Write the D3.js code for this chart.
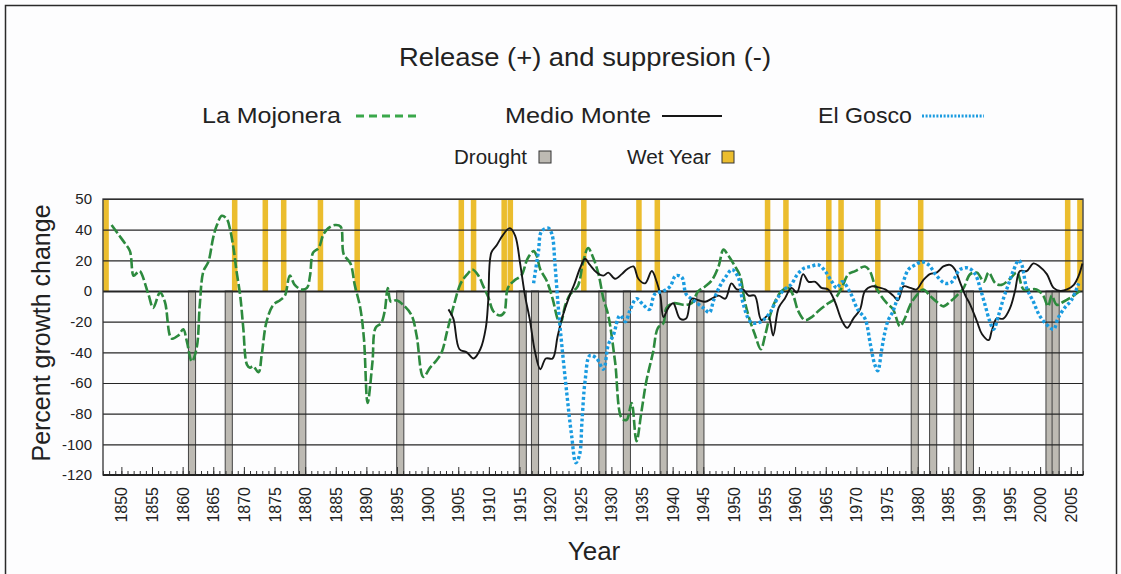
<!DOCTYPE html>
<html>
<head>
<meta charset="utf-8">
<script src="https://cdn.jsdelivr.net/npm/d3@7"></script>
<style>
  body { margin: 0; background: #fdfdfe; }
  text { font-family: "Liberation Sans", Arial, sans-serif; fill: #222; }
</style>
</head>
<body>
<div id="chart"></div>
<script>
'use strict';

// ---- data ----
const wetYears = [1847, 1868, 1873, 1876, 1882, 1888, 1905, 1907, 1912, 1913, 1925,
                  1934, 1937, 1955, 1958, 1965, 1967, 1973, 1980, 2004, 2006];
const droughtYears = [1861, 1867, 1879, 1895, 1915, 1917, 1928, 1932, 1938, 1944,
                      1979, 1982, 1986, 1988, 2001, 2002];

// [year, percent growth change]
const laMojonera = [
  [1848.4, 43], [1849.5, 37], [1850.6, 31], [1851.4, 26], [1852, 10], [1852.6, 12], [1853, 13],
  [1854.4, -2], [1855.2, -11], [1856.3, -1], [1857.1, -7], [1858.2, -31], [1859.3, -29],
  [1860.1, -25], [1860.7, -33], [1861.5, -46], [1862.3, -37], [1862.8, -9], [1863.4, 13],
  [1864.2, 19], [1865, 35], [1865.6, 43], [1866.4, 49], [1867.2, 47], [1867.7, 41], [1868.3, 28],
  [1868.8, 13], [1869.4, -3], [1869.9, -24], [1870.5, -48], [1871, -50], [1871.5, -49],
  [1872.4, -53], [1872.9, -42], [1873.7, -20], [1874.8, -9], [1875.9, -6], [1876.7, -3],
  [1877.5, 10], [1878.3, 4], [1879.4, 1], [1880.3, 2], [1880.8, 10], [1881.3, 25], [1882.2, 28],
  [1883, 37], [1883.8, 41], [1884.9, 43], [1885.8, 42], [1886.3, 24], [1887.4, 18], [1888.1, 4],
  [1889, -11], [1889.6, -31], [1890.2, -73], [1891, -46], [1891.5, -24], [1892.4, -21],
  [1893, -13], [1893.5, 2], [1894, -7], [1894.9, -6], [1896, -9], [1897.4, -16], [1898.2, -29],
  [1899.3, -56], [1900.4, -50], [1901.5, -45], [1902.3, -40], [1903.2, -26], [1904.3, -9],
  [1905.4, 5], [1906.5, 11], [1907.3, 14], [1908.3, 10], [1909.1, 3], [1909.9, -4], [1910.7, -13],
  [1911.8, -16], [1912.5, -14], [1913.1, 2], [1914.2, 7], [1915.3, 10], [1916.3, 21], [1917.3, 26],
  [1917.8, 23], [1918.4, 14], [1919.4, 7], [1920.4, -5], [1921.3, -19], [1921.7, -21], [1922.5, -9],
  [1923.3, -2], [1924.5, 3], [1925.4, 19], [1926.2, 28], [1927, 22], [1927.9, 11], [1928.7, -5],
  [1929.5, -16], [1930.6, -46], [1931.7, -83], [1932.5, -84], [1933.3, -73], [1934.1, -98],
  [1934.9, -79], [1935.7, -59], [1936.8, -40], [1937.6, -24], [1938.5, -21], [1939, -11],
  [1940.1, -8], [1941.7, -9], [1942.3, -9], [1943.1, -8], [1944.2, 0], [1945.3, 3], [1946.4, 7],
  [1947.5, 16], [1948.3, 27], [1949.1, 23], [1950.2, 16], [1951, 10], [1951.8, -7], [1952.6, -19],
  [1953.4, -28], [1954.4, -38], [1955.1, -29], [1955.9, -16], [1956.7, -7], [1957.8, 0],
  [1958.9, 2], [1959.7, -3], [1960.5, -13], [1961.6, -19], [1962.7, -17], [1963.8, -13],
  [1965.4, -8], [1966.5, -5], [1967.6, 2], [1968.7, 11], [1969.8, 13], [1971.4, 16], [1972.2, 13],
  [1973, 4], [1974, -3], [1975, -8], [1976, -12], [1977.1, -23], [1977.9, -18], [1978.8, -9],
  [1979.8, -3], [1980.9, 1], [1982, -3], [1983.1, -7], [1984.2, -10], [1985.3, -7], [1986.4, -3],
  [1987.5, 2], [1988.6, 11], [1989.7, 12], [1990.8, 6], [1991.6, 12], [1992.7, 5], [1993.7, 4],
  [1995.1, 8], [1996.2, 12], [1997.3, 1], [1998.3, 1], [1999.4, 1], [2000.5, -3], [2001.3, -10],
  [2001.9, -3], [2002.7, -9], [2003.8, -7], [2005.1, -4], [2006.5, 0]
];

const medioMonte = [
  [1903.4, -12], [1904.2, -18], [1905.2, -38], [1906.4, -40], [1907.5, -44], [1908.6, -38],
  [1909.5, -24], [1909.9, -6], [1910.4, 25], [1911.3, 30], [1912.2, 36], [1913.4, 41], [1914.3, 36],
  [1915.1, 18], [1915.9, -3], [1916.7, -19], [1917.5, -39], [1918.4, -51], [1919.3, -44],
  [1920.4, -44], [1921.2, -30], [1922, -17], [1923, -5], [1924, 5], [1924.9, 15], [1925.7, 21],
  [1926.5, 17], [1927.6, 12], [1928.7, 10], [1929.5, 12], [1930.6, 8], [1931.7, 11], [1932.5, 14],
  [1933.6, 16], [1934.4, 8], [1935.5, 5], [1936.6, 13], [1937.4, 6], [1938, -3], [1938.5, -17],
  [1939.3, -11], [1940.1, -8], [1941.2, -18], [1942.2, -18], [1943.1, -5], [1944.2, -6],
  [1945.3, -7], [1946.4, -5], [1947.5, -3], [1948.6, -5], [1949.6, 5], [1950.5, 1], [1951.5, 1],
  [1952.4, -3], [1953.4, -3], [1954.5, -19], [1955.6, -16], [1956.4, -29], [1957.3, -11],
  [1958.3, -5], [1959.4, 2], [1960.3, -1], [1961.3, 11], [1962.2, 6], [1963.3, 6], [1964.3, 2],
  [1965.4, 1], [1966.5, -7], [1967.6, -19], [1968.5, -24], [1969.5, -18], [1970.6, -12],
  [1971.4, 0], [1972.5, 3], [1973.9, 2], [1974.7, 1], [1976, -3], [1976.8, -6], [1977.7, 3],
  [1978.8, 2], [1979.8, 1], [1980.9, 7], [1982, 11], [1983.1, 12], [1984.2, 16], [1985.3, 17],
  [1986.1, 14], [1986.9, 6], [1987.8, -3], [1988.6, -9], [1989.7, -20], [1990.5, -28],
  [1991.6, -32], [1992.1, -26], [1992.9, -18], [1994, -18], [1995.1, -11], [1995.9, 0],
  [1996.7, 13], [1997.8, 13], [1998.9, 18], [1999.9, 16], [2001.1, 11], [2002.2, 2], [2003.3, 0],
  [2004.4, 1], [2005.5, 4], [2006.3, 10], [2006.9, 18]
];

const elGosco = [
  [1917.3, 5], [1917.6, 13], [1918.1, 26], [1918.6, 39], [1919.7, 41], [1920.3, 37], [1920.8, 17],
  [1921.3, -9], [1921.9, -35], [1922.7, -66], [1923.5, -94], [1924.2, -112], [1924.8, -107],
  [1925.2, -85], [1925.7, -59], [1926.5, -42], [1927.6, -44], [1928.7, -51], [1929.5, -35],
  [1930.3, -29], [1931.4, -16], [1932.3, -20], [1933, -13], [1934.1, -5], [1935.2, -9],
  [1936.2, -12], [1937.1, -2], [1938.5, 0], [1939.6, 3], [1940.5, 10], [1941.5, 9], [1942.2, -2],
  [1943.4, -6], [1945, -11], [1946, -14], [1946.7, -6], [1947.7, 3], [1948.8, 10], [1949.7, 14],
  [1950.7, 9], [1951.5, -8], [1952.7, -20], [1953.7, -21], [1954.8, -19], [1955.9, -14],
  [1957.1, -5], [1958.2, 1], [1959.3, 4], [1960.4, 11], [1961.5, 15], [1962.5, 16], [1963.8, 17],
  [1964.9, 13], [1966, 6], [1966.8, 2], [1967.7, 6], [1969, -1], [1970.2, -12], [1971.4, -18],
  [1972.3, -35], [1973, -48], [1973.5, -52], [1974.1, -39], [1974.6, -28], [1975.2, -19],
  [1975.9, -14], [1976.6, -6], [1977.5, 4], [1978.5, 14], [1979.6, 17], [1980.7, 19], [1981.8, 17],
  [1983.1, 10], [1984.5, 5], [1985.6, 6], [1986.9, 14], [1988.3, 15], [1989.4, 11], [1990.2, 2],
  [1991, -9], [1991.8, -20], [1992.4, -25], [1993.2, -16], [1994, -5], [1994.8, 4], [1995.6, 13],
  [1996.5, 20], [1997, 17], [1997.8, 2], [1998.9, -7], [1999.9, -16], [2001.1, -22], [2002.2, -25],
  [2002.9, -18], [2004, -11], [2005.1, -6], [2006.3, 5]
];

// gridlines are evenly spaced, but the top one is labelled 50
const yTickValues = [60, 40, 20, 0, -20, -40, -60, -80, -100, -120];
const yTickLabels = ['50', '40', '20', '0', '-20', '-40', '-60', '-80', '-100', '-120'];
const xLabelYears = d3.range(1850, 2006, 5);
const xMinorYears = d3.range(1847, 2008);

// ---- layout ----
const width = 1121, height = 574;
const plot = {left: 103, right: 1083, top: 199, bottom: 475};
const wetColor = '#ebbd2e',
      droughtColor = '#bdbab3',
      greenColor = '#2d8a3e',
      blueColor = '#1a9be0';

const svg = d3.select('#chart')
  .append('svg')
  .attr('width', width)
  .attr('height', height);

svg.append('rect')
  .attr('x', 5.5).attr('y', 5.5)
  .attr('width', 1111).attr('height', 620)
  .attr('fill', '#fdfdfe')
  .attr('stroke', '#2a2a2a')
  .attr('stroke-width', 1.5);

const x = d3.scaleLinear().domain([1847, 2007]).range([plot.left, plot.right]);
const y = d3.scaleLinear().domain([-120, 60]).range([plot.bottom, plot.top]);

// wet years and droughts
svg.append('g').selectAll('rect')
  .data(wetYears)
  .join('rect')
  .attr('x', d => x(d) + 0.3)
  .attr('y', y(60))
  .attr('width', d => x(d + 1) - x(d) - 0.6)
  .attr('height', y(0) - y(60))
  .attr('fill', wetColor);

svg.append('g').selectAll('rect')
  .data(droughtYears)
  .join('rect')
  .attr('x', d => x(d) - 0.3)
  .attr('y', y(0))
  .attr('width', d => x(d + 1) - x(d) + 1)
  .attr('height', y(-120) - y(0))
  .attr('fill', droughtColor)
  .attr('stroke', '#444')
  .attr('stroke-width', 1);

// gridlines
const grid = svg.append('g')
  .attr('transform', 'translate(' + plot.left + ',0)')
  .call(d3.axisLeft(y)
    .tickValues(yTickValues)
    .tickSize(-(plot.right - plot.left))
    .tickFormat(''));
grid.select('.domain').remove();
grid.selectAll('.tick line')
  .attr('stroke', '#262626')
  .attr('stroke-width', d => d === 0 ? 2 : 1.1);

// y labels
const yAxis = svg.append('g')
  .attr('transform', 'translate(' + plot.left + ',0)')
  .call(d3.axisLeft(y)
    .tickValues(yTickValues)
    .tickSize(0)
    .tickPadding(11)
    .tickFormat((d, i) => yTickLabels[i]));
yAxis.select('.domain').remove();
yAxis.selectAll('text')
  .style('font-size', '15px')
  .style('font-family', '"Liberation Sans", Arial, sans-serif')
  .attr('fill', '#222');

// x minor + major ticks pointing into the plot
const xMinor = svg.append('g')
  .attr('transform', 'translate(0,' + plot.bottom + ')')
  .call(d3.axisBottom(x).tickValues(xMinorYears).tickSize(-4).tickFormat(''));
xMinor.select('.domain').remove();
xMinor.selectAll('.tick line').attr('stroke', '#333').attr('stroke-width', 1);

const xMajor = svg.append('g')
  .attr('transform', 'translate(0,' + plot.bottom + ')')
  .call(d3.axisBottom(x).tickValues(xLabelYears).tickSize(-8).tickFormat(d3.format('d')));
xMajor.select('.domain').remove();
xMajor.selectAll('.tick line').attr('stroke', '#333').attr('stroke-width', 1);
xMajor.selectAll('text')
  .attr('transform', 'rotate(-90)')
  .attr('x', -12)
  .attr('y', 0)
  .attr('dy', '0.35em')
  .style('text-anchor', 'end')
  .style('font-size', '16px')
  .style('font-family', '"Liberation Sans", Arial, sans-serif')
  .attr('fill', '#222');

// plot frame
svg.append('rect')
  .attr('x', plot.left).attr('y', plot.top)
  .attr('width', plot.right - plot.left)
  .attr('height', plot.bottom - plot.top)
  .attr('fill', 'none')
  .attr('stroke', '#333')
  .attr('stroke-width', 1.3);
svg.append('line')
  .attr('x1', plot.left).attr('x2', plot.right)
  .attr('y1', plot.bottom).attr('y2', plot.bottom)
  .attr('stroke', '#222')
  .attr('stroke-width', 2);

// series
const line = d3.line()
  .x(d => x(d[0]))
  .y(d => y(d[1]))
  .curve(d3.curveCatmullRom.alpha(0.5));

svg.append('path')
  .datum(laMojonera)
  .attr('d', line)
  .attr('fill', 'none')
  .attr('stroke', greenColor)
  .attr('stroke-width', 2.6)
  .attr('stroke-dasharray', '10,3');

svg.append('path')
  .datum(medioMonte)
  .attr('d', line)
  .attr('fill', 'none')
  .attr('stroke', '#161616')
  .attr('stroke-width', 1.9);

svg.append('path')
  .datum(elGosco)
  .attr('d', line)
  .attr('fill', 'none')
  .attr('stroke', blueColor)
  .attr('stroke-width', 3.4)
  .attr('stroke-dasharray', '3,2.4');

// titles
svg.append('text')
  .attr('x', 399).attr('y', 66)
  .attr('textLength', 372)
  .attr('lengthAdjust', 'spacingAndGlyphs')
  .style('font-size', '25px')
  .text('Release (+) and suppresion (-)');

svg.append('text')
  .attr('transform', 'translate(50,' + ((plot.top + plot.bottom) / 2 - 4) + ') rotate(-90)')
  .attr('text-anchor', 'middle')
  .style('font-size', '25px')
  .text('Percent growth change');

svg.append('text')
  .attr('x', 594).attr('y', 560)
  .attr('text-anchor', 'middle')
  .style('font-size', '26px')
  .text('Year');

// legend
const legendSeries = [
  {name: 'La Mojonera', tx: 202, tw: 139, x1: 356, x2: 417, color: '#3aa84a', width: 3, dash: '8,5'},
  {name: 'Medio Monte', tx: 505, tw: 146, x1: 662, x2: 722, color: '#161616', width: 2, dash: null},
  {name: 'El Gosco', tx: 818, tw: 94, x1: 922, x2: 984, color: blueColor, width: 3, dash: '2,1.6'}
];
legendSeries.forEach(function(s) {
  svg.append('text')
    .attr('x', s.tx).attr('y', 123)
    .attr('textLength', s.tw)
    .attr('lengthAdjust', 'spacingAndGlyphs')
    .style('font-size', '22px')
    .text(s.name);
  svg.append('line')
    .attr('x1', s.x1).attr('x2', s.x2)
    .attr('y1', 116).attr('y2', 116)
    .attr('stroke', s.color)
    .attr('stroke-width', s.width)
    .attr('stroke-dasharray', s.dash);
});

const legendBars = [
  {name: 'Drought', tx: 454, tw: 73, bx: 539, fill: droughtColor},
  {name: 'Wet Year', tx: 627, tw: 84, bx: 722, fill: wetColor}
];
legendBars.forEach(function(b) {
  svg.append('text')
    .attr('x', b.tx).attr('y', 164)
    .attr('textLength', b.tw)
    .attr('lengthAdjust', 'spacingAndGlyphs')
    .style('font-size', '20px')
    .text(b.name);
  svg.append('rect')
    .attr('x', b.bx).attr('y', 151)
    .attr('width', 12).attr('height', 12)
    .attr('fill', b.fill)
    .attr('stroke', '#333')
    .attr('stroke-width', 1);
});
</script>
</body>
</html>
